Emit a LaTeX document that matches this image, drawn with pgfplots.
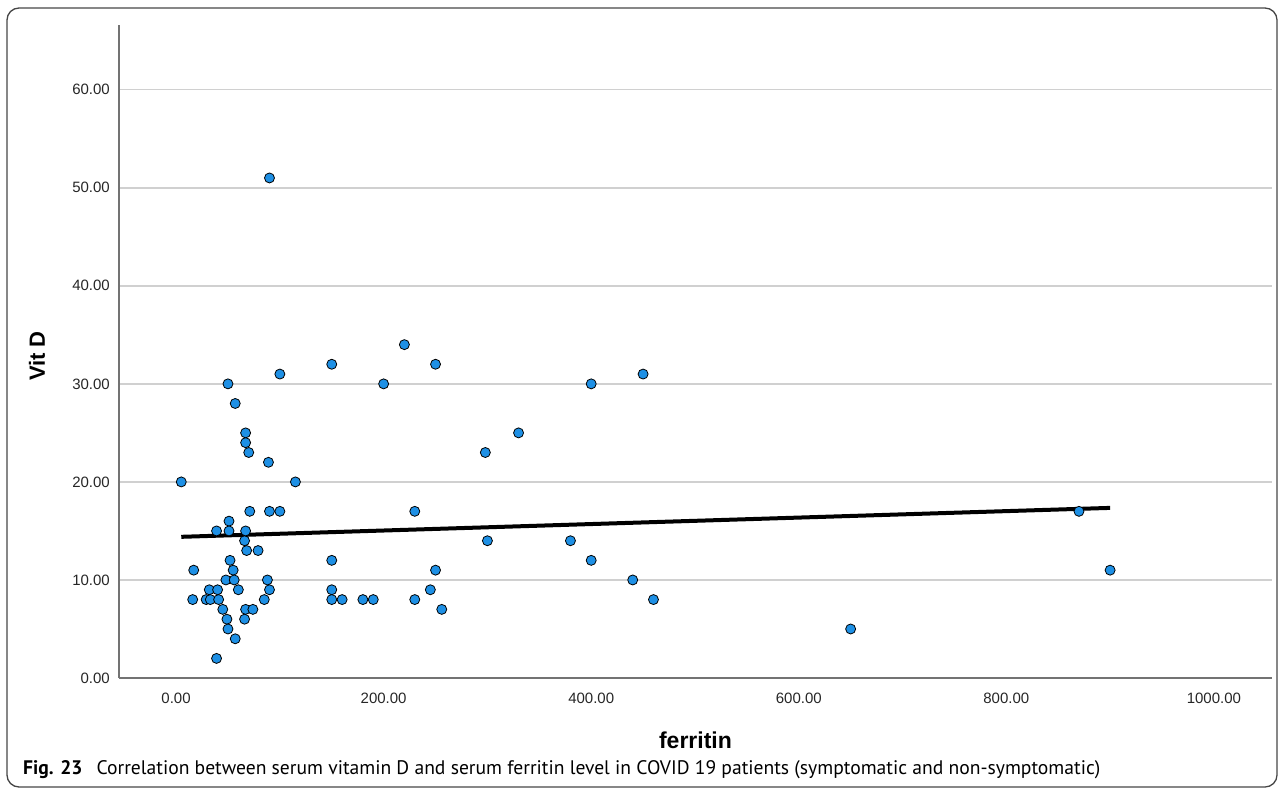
\documentclass[border=0pt]{standalone}
\usepackage{pgfplots}
\pgfplotsset{compat=1.18}
\usepackage{fontspec}
\setmainfont{Liberation Sans}
\newfontfamily\captionfont{PT Sans}

\definecolor{spssblue}{RGB}{30,144,229}
\definecolor{gridgray}{RGB}{208,208,208}
\definecolor{axisgray}{RGB}{115,115,115}
\definecolor{framegray}{RGB}{70,70,70}

% ferritin vs. vitamin D, one row per patient
\pgfplotstableread{
ferritin vitd
5 20
17 11
16 8
29 8
33 8
32 9
40 9
41 8
39 15
39 2
45 7
48 10
49 6
50 5
50 30
51 16
51 15
52 12
55 11
56 10
57 28
57 4
60 9
66 14
66 6
67 25
67 24
67 15
67 7
68 13
70 23
71 17
74 7
79 13
85 8
88 10
89 22
90 17
90 9
90 51
100 31
100 17
115 20
150 32
150 12
150 9
150 8
160 8
180 8
190 8
200 30
220 34
230 17
230 8
245 9
250 32
250 11
256 7
298 23
300 14
330 25
380 14
400 30
400 12
440 10
450 31
460 8
650 5
870 17
900 11
}\patients

\begin{document}
\begin{tikzpicture}
\useasboundingbox (0pt,0pt) rectangle (1284pt,-790pt);
\draw[draw=framegray, line width=1.3pt, rounded corners=12pt] (7pt,-8pt) rectangle (1277pt,-787pt);
\begin{axis}[
  at={(119pt,-678pt)}, anchor=south west,
  scale only axis, width=1153pt, height=653pt,
  xmin=-55, xmax=1056, ymin=0, ymax=66.6,
  axis x line*=bottom, axis y line*=left,
  axis line style={draw=axisgray, line width=1.5pt, -},
  xtick={0,200,...,1000}, ytick={0,10,...,60},
  major tick length=0pt,
  ymajorgrids, grid style={draw=gridgray, line width=1.5pt},
  tick label style={font=\fontsize{15}{18}\selectfont, text=black!85},
  xticklabel style={anchor=north, inner sep=0pt, yshift=-15pt},
  yticklabel style={anchor=east, inner sep=0pt, xshift=-9pt},
  /pgf/number format/fixed,
  /pgf/number format/fixed zerofill,
  /pgf/number format/precision=2,
  /pgf/number format/1000 sep={},
  /pgf/number format/assume math mode=true,
  xlabel={ferritin}, ylabel={Vit D},
  xlabel style={at={(axis description cs:0.5,-0.1087)}, anchor=base,
    font=\bfseries\fontsize{23}{27}\selectfont},
  ylabel style={at={(axis description cs:-0.0711,0.493)}, anchor=center,
    font=\bfseries\fontsize{22}{26}\selectfont},
]
\addplot[only marks, mark=*, mark size=5pt,
  mark options={fill=spssblue, draw=black, line width=0.8pt}]
  table[x=ferritin, y=vitd] {\patients};
% least-squares fit line
\addplot[black, line width=4pt] coordinates {(5,14.4) (900,17.35)};
\end{axis}
\node[anchor=base west, inner sep=0pt, font=\captionfont\fontsize{19.6}{23}\selectfont]
  at (23pt,-774pt) {\textbf{Fig. 23}\hspace{14pt}Correlation between serum vitamin D and serum ferritin level in COVID 19 patients (symptomatic and non-symptomatic)};
\end{tikzpicture}
\end{document}
